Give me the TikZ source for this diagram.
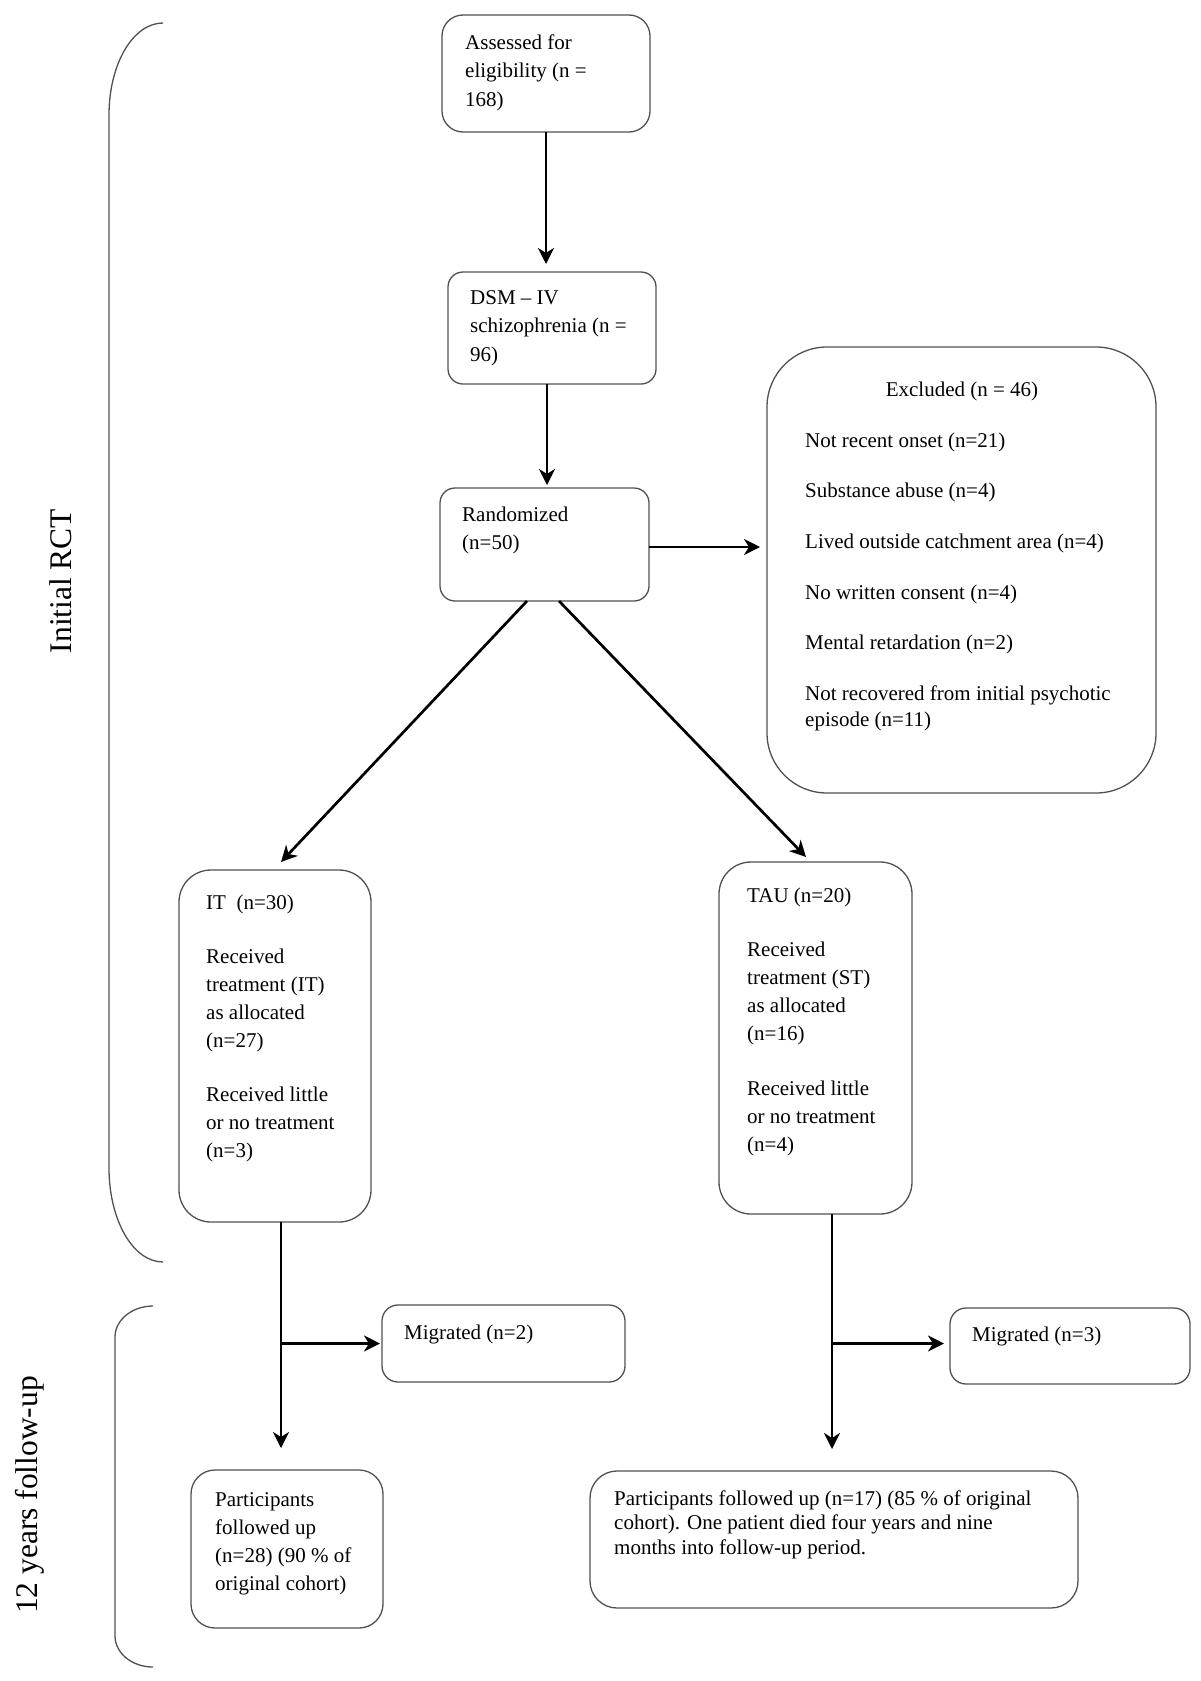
\documentclass[tikz,border=0pt]{standalone}
\usepackage{fontspec}
\setmainfont{Liberation Serif}
\usetikzlibrary{arrows.meta,calc}
\definecolor{boxgray}{HTML}{505050}
\begin{document}
\begin{tikzpicture}[x=1pt,y=-1pt,
  box/.style={draw=boxgray, line width=1.3pt, rectangle, inner sep=0pt, outer sep=0pt},
  arr/.style={line width=2.7pt, -{Stealth[length=16pt,width=16pt,inset=5pt]}},
  txt/.style={anchor=base west, inner sep=0pt},
  brace/.style={draw=boxgray, line width=1.3pt},
  side/.style={rotate=90, anchor=base, inner sep=0pt, font=\fontsize{31.5}{36}\selectfont}]
\useasboundingbox (0,0) rectangle (1200,1681);

% boxes
\node[box, rounded corners=21pt, minimum width=208pt, minimum height=117pt] (assess) at (546,73.5) {};
\node[box, rounded corners=15pt, minimum width=208pt, minimum height=112pt] (dsm) at (552,328) {};
\node[box, rounded corners=15pt, minimum width=209pt, minimum height=113pt] (rand) at (544.5,544.5) {};
\node[box, rounded corners=60pt, minimum width=389pt, minimum height=446pt] (excl) at (961.5,570) {};
\node[box, rounded corners=32pt, minimum width=192pt, minimum height=352pt] (it) at (275,1046) {};
\node[box, rounded corners=32pt, minimum width=193pt, minimum height=352pt] (tau) at (815.5,1038) {};
\node[box, rounded corners=16pt, minimum width=243pt, minimum height=77pt] (mig1) at (503.5,1343.5) {};
\node[box, rounded corners=16pt, minimum width=240pt, minimum height=76pt] (mig2) at (1070,1346) {};
\node[box, rounded corners=24pt, minimum width=192pt, minimum height=158pt] (part1) at (287,1549) {};
\node[box, rounded corners=27pt, minimum width=488pt, minimum height=137pt] (part2) at (834,1539.5) {};

% texts
\node[txt, font=\fontsize{21}{28.5}\selectfont] (tassess) at (465,49)
  {\parbox[t]{300pt}{\raggedright Assessed for\\eligibility (n =\\168)}};
\node[txt, font=\fontsize{21}{28.5}\selectfont] (tdsm) at (470,304)
  {\parbox[t]{300pt}{\raggedright DSM – IV\\schizophrenia (n =\\96)}};
\node[txt, font=\fontsize{21}{28}\selectfont] (trand) at (462,521)
  {\parbox[t]{300pt}{\raggedright Randomized\\(n=50)}};
\node[anchor=base, inner sep=0pt, font=\fontsize{21}{26}\selectfont] (texcl) at (962,396) {Excluded (n = 46)};
\node[txt, font=\fontsize{21}{26}\selectfont] (texitems) at (805,447)
  {\parbox[t]{400pt}{\raggedright Not recent onset (n=21)\\[24.7pt]Substance abuse (n=4)\\[24.7pt]Lived outside catchment area (n=4)\\[24.7pt]No written consent (n=4)\\[24.7pt]Mental retardation (n=2)\\[24.7pt]Not recovered from initial psychotic\\episode (n=11)}};
\node[txt, font=\fontsize{21}{28}\selectfont] (tit) at (206,909)
  {\parbox[t]{300pt}{\raggedright IT\ \ (n=30)\\[26pt]Received\\treatment (IT)\\as allocated\\(n=27)\\[26pt]Received little\\or no treatment\\(n=3)}};
\node[txt, font=\fontsize{21}{28}\selectfont] (ttau) at (747,902)
  {\parbox[t]{300pt}{\raggedright TAU (n=20)\\[26pt]Received\\treatment (ST)\\as allocated\\(n=16)\\[27pt]Received little\\or no treatment\\(n=4)}};
\node[txt, font=\fontsize{21}{28}\selectfont] (tmig1) at (404,1339) {Migrated (n=2)};
\node[txt, font=\fontsize{21}{28}\selectfont] (tmig2) at (972,1341) {Migrated (n=3)};
\node[txt, font=\fontsize{21}{28}\selectfont] (tpart1) at (215,1506)
  {\parbox[t]{300pt}{\raggedright Participants\\followed up\\(n=28) (90 \% of\\original cohort)}};
\node[txt, font=\fontsize{21}{24.5}\selectfont] (tpart2) at (614,1505)
  {\parbox[t]{500pt}{\raggedright Participants followed up (n=17) (85 \% of original\\cohort). One patient died four years and nine\\months into follow-up period.}};

% side labels
\node[side] (lrct) at (71,581) {Initial RCT};
\node[side] (lfu) at (37,1495) {12 years follow-up};

% braces
\draw[brace] (163,23) .. controls (133,23) and (109,64) .. (109,115) -- (109,1168)
  .. controls (109,1220) and (133,1262) .. (163,1262);
\draw[brace] (153,1306) .. controls (132,1306) and (115,1320) .. (115,1337) -- (115,1636)
  .. controls (115,1653) and (132,1667) .. (153,1667);

% connectors
\draw[arr, shorten >=8pt] (assess.south) -- (assess.south |- dsm.north);
\draw[arr, shorten >=3pt] ([xshift=-5pt]dsm.south) -- ([xshift=-5pt]dsm.south |- rand.north);
\coordinate (re) at ([yshift=-2.5pt]rand.east);
\draw[arr, shorten >=7pt] (re) -- (re -| excl.west);
\draw[arr] ([xshift=-17.5pt]rand.south) -- ([xshift=6pt,yshift=8pt]it.north);
\draw[arr] ([xshift=14.5pt]rand.south) -- ([xshift=-9.5pt,yshift=5pt]tau.north);

\coordinate (itb) at ([xshift=6pt]it.south);
\coordinate (j1) at (itb |- mig1.west);
\draw[arr, shorten >=22pt] (itb) -- (itb |- part1.north);
\draw[arr, shorten >=2pt] (j1) -- (mig1.west);

\coordinate (taub) at ([xshift=16.5pt]tau.south);
\coordinate (j2) at ($(taub |- mig2.west)+(0,-2.5)$);
\draw[arr, shorten >=22pt] (taub) -- (taub |- part2.north);
\draw[arr, shorten >=6pt] (j2) -- (j2 -| mig2.west);
\end{tikzpicture}
\end{document}
